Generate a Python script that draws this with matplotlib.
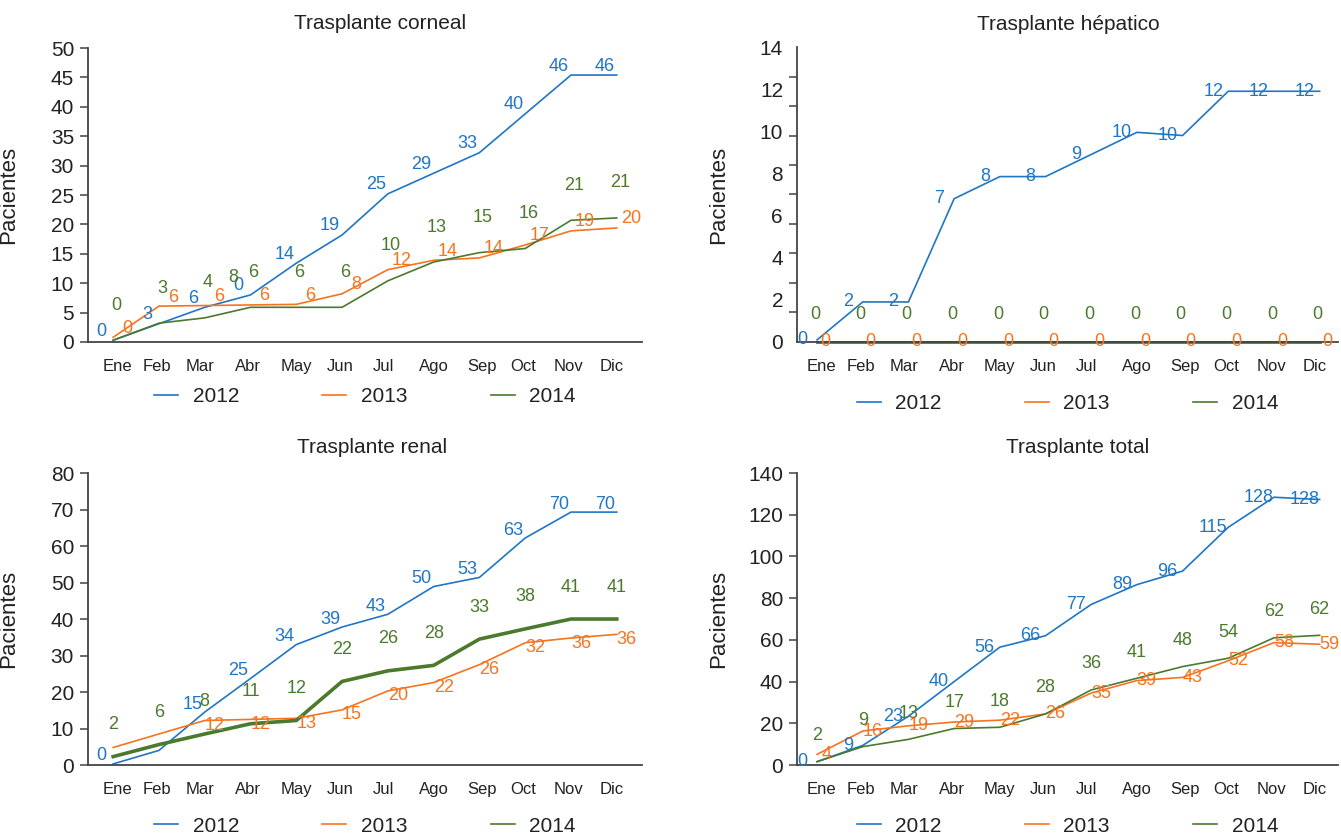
import numpy as np
import matplotlib
matplotlib.use('Agg')
from matplotlib import pyplot as plt

plt.rcParams['font.family'] = ['Liberation Sans Narrow', 'Liberation Sans', 'DejaVu Sans']

months = ['Ene', 'Feb', 'Mar', 'Abr', 'May', 'Jun', 'Jul', 'Ago', 'Sep', 'Oct', 'Nov', 'Dic']
years = ['2012', '2013', '2014']

# Trasplante corneal (line values as drawn, and the printed labels)
corneal_2012 = [0.3, 3.1, 5.9, 8.0, 13.4, 18.2, 25.2, 28.7, 32.2, 38.8, 45.4, 45.4]
corneal_2013 = [0.8, 6.1, 6.2, 6.3, 6.4, 8.2, 12.3, 13.9, 14.3, 16.5, 18.9, 19.4]
corneal_2014 = [0.3, 3.2, 4.1, 5.9, 5.9, 5.9, 10.4, 13.6, 15.2, 15.9, 20.7, 21.1]
corneal_lbl_2012 = [0, 3, 6, 0, 14, 19, 25, 29, 33, 40, 46, 46]
corneal_lbl_2013 = [0, 6, 6, 6, 6, 8, 12, 14, 14, 17, 19, 20]
corneal_lbl_2014 = [0, 3, 4, 8, 6, 6, 6, 10, 13, 15, 16, 21, 21]

# Trasplante hepatico
hepatic_2012 = [0.1, 1.9, 1.9, 6.8, 7.85, 7.85, 8.9, 9.95, 9.8, 11.9, 11.9, 11.9]
hepatic_2013 = [0, 0, 0, 0, 0, 0, 0, 0, 0, 0, 0, 0]
hepatic_2014 = [0, 0, 0, 0, 0, 0, 0, 0, 0, 0, 0, 0]
hepatic_lbl_2012 = [0, 2, 2, 7, 8, 8, 9, 10, 10, 12, 12, 12]
hepatic_lbl_2013 = [0, 0, 0, 0, 0, 0, 0, 0, 0, 0, 0, 0]
hepatic_lbl_2014 = [0, 0, 0, 0, 0, 0, 0, 0, 0, 0, 0, 0]

# Trasplante renal
renal_2012 = [0.3, 4.0, 14.5, 23.7, 33.0, 37.8, 41.3, 48.9, 51.4, 62.2, 69.3, 69.3]
renal_2013 = [4.8, 8.5, 12.2, 12.5, 12.8, 15.1, 20.3, 22.6, 27.5, 33.5, 34.8, 35.8]
renal_2014 = [2.3, 5.6, 8.5, 11.3, 12.2, 22.9, 25.8, 27.3, 34.5, 37.3, 40.0, 40.0]
renal_lbl_2012 = [0, None, 15, 25, 34, 39, 43, 50, 53, 63, 70, 70]
renal_lbl_2013 = [None, None, 12, 12, 13, 15, 20, 22, 26, 32, 36, 36]
renal_lbl_2014 = [2, 6, 8, 11, 12, 22, 26, 28, 33, 38, 41, 41]

# Trasplante total
total_2012 = [1.6, 9.4, 23.4, 40.0, 56.5, 62.0, 77.0, 86.5, 93.0, 114.0, 128.4, 127.3]
total_2013 = [5.1, 16.3, 18.8, 20.6, 21.5, 24.5, 34.5, 40.5, 42.0, 50.0, 58.7, 57.9]
total_2014 = [1.6, 8.8, 12.3, 17.5, 18.1, 24.5, 36.0, 41.6, 47.2, 51.2, 61.0, 62.2]
total_lbl_2012 = [0, 9, 23, 40, 56, 66, 77, 89, 96, 115, 128, 128]
total_lbl_2013 = [4, 16, 19, 29, 22, 26, 35, 39, 43, 52, 58, 59]
total_lbl_2014 = [2, 9, 13, 17, 18, 28, 36, 41, 48, 54, 62, 62]

COLORS = ['#1f76c6', '#f7731f', '#4b7a2c']
TEXT = '#222222'
AXIS = '#444444'

# month labels are not centred on the data points in the original
month_pos = [0.1, 0.95, 1.9, 2.95, 4.0, 4.95, 5.9, 7.0, 8.05, 8.95, 9.95, 10.9]


def draw_panel(ax, title, series, labels, offsets, yticks, ylabels_only=None,
               widths=(1.2, 1.2, 1.2), label_x=(None, None, None),
               xlim=(-0.55, 11.55), title_xy=(0.5, 1.08), legend_y=-0.19):
    x = np.arange(12)
    for i in range(3):
        ax.plot(x, series[i], color=COLORS[i], lw=widths[i], label=years[i],
                clip_on=False, solid_joinstyle='miter')

    # value labels, shifted off the line like in the source picture
    for i in range(3):
        xs = x if label_x[i] is None else np.array(label_x[i])
        ys = np.interp(xs, x, series[i])
        for xv, yv, txt in zip(xs, ys, labels[i]):
            if txt is None:
                continue
            ax.annotate(str(txt), (xv, yv), xytext=offsets[i], textcoords='offset pixels',
                        ha='center', va='center', fontsize=13, color=COLORS[i],
                        annotation_clip=False)

    ax.set_xlim(*xlim)
    ax.set_ylim(yticks[0], yticks[-1])
    ax.set_xticks(month_pos, months)
    ax.tick_params(axis='x', length=0, pad=12, labelsize=12, colors=TEXT)

    if ylabels_only is None:
        ax.set_yticks(yticks)
        ax.tick_params(axis='y', length=6, width=1.1, color=AXIS, labelsize=15,
                       labelcolor=TEXT, pad=4)
    else:
        # tick marks and labels at different steps (hepatic panel)
        ax.set_yticks(ylabels_only)
        ax.set_yticks(yticks, minor=True)
        ax.tick_params(axis='y', which='major', length=0, labelsize=15, labelcolor=TEXT, pad=10)
        ax.tick_params(axis='y', which='minor', length=6, width=1.1, color=AXIS)

    for side in ['top', 'right']:
        ax.spines[side].set_visible(False)
    for side in ['left', 'bottom']:
        ax.spines[side].set_color(AXIS)
        ax.spines[side].set_linewidth(1.3)

    ax.text(title_xy[0], title_xy[1], title, transform=ax.transAxes, ha='center',
            va='center', fontsize=15, color=TEXT)
    ax.set_ylabel('Pacientes', fontsize=16, color=TEXT)
    ax.yaxis.set_label_coords(-0.125, 0.5)
    leg = ax.legend(loc='center', bbox_to_anchor=(0.5, legend_y), ncol=3, frameon=False,
                    handlelength=1.15, handletextpad=0.7, columnspacing=4.0, fontsize=15,
                    labelcolor=TEXT)
    # legend keys are all thin, even for the thick line
    for h in leg.legend_handles:
        h.set_linewidth(1.2)


fig = plt.figure(figsize=(13.41, 8.38), dpi=100)
ax_c = fig.add_axes([0.0656, 0.5919, 0.4131, 0.3508])
ax_h = fig.add_axes([0.5943, 0.5919, 0.4034, 0.3520])
ax_r = fig.add_axes([0.0656, 0.0871, 0.4131, 0.3484])
ax_t = fig.add_axes([0.5943, 0.0871, 0.4034, 0.3484])

draw_panel(ax_c, 'Trasplante corneal',
           [corneal_2012, corneal_2013, corneal_2014],
           [corneal_lbl_2012, corneal_lbl_2013, corneal_lbl_2014],
           [(-12, 9), (14, 9), (3, 35)], list(range(0, 51, 5)),
           label_x=(None, None, [0, 1, 2, 2.55, 3, 4, 5, 6, 7, 8, 9, 10, 11]),
           title_xy=(0.527, 1.082), legend_y=-0.187)

draw_panel(ax_h, 'Trasplante hépatico',
           [hepatic_2012, hepatic_2013, hepatic_2014],
           [hepatic_lbl_2012, hepatic_lbl_2013, hepatic_lbl_2014],
           [(-15, 0), (8, 0), (-2, 27)], list(np.linspace(0, 14, 11)),
           ylabels_only=list(range(0, 15, 2)), widths=(1.2, 1.2, 2.0),
           xlim=(-0.44, 11.4), title_xy=(0.501, 1.078), legend_y=-0.21)

draw_panel(ax_r, 'Trasplante renal',
           [renal_2012, renal_2013, renal_2014],
           [renal_lbl_2012, renal_lbl_2013, renal_lbl_2014],
           [(-12, 8), (10, -5), (0, 32)], list(range(0, 81, 10)),
           widths=(1.2, 1.2, 2.6), title_xy=(0.513, 1.089), legend_y=-0.209)

draw_panel(ax_t, 'Trasplante total',
           [total_2012, total_2013, total_2014],
           [total_lbl_2012, total_lbl_2013, total_lbl_2014],
           [(-15, 0), (10, 0), (0, 26)], list(range(0, 141, 20)),
           xlim=(-0.44, 11.4), title_xy=(0.519, 1.089), legend_y=-0.209)

fig.savefig('out.png', dpi=100, facecolor='white')
